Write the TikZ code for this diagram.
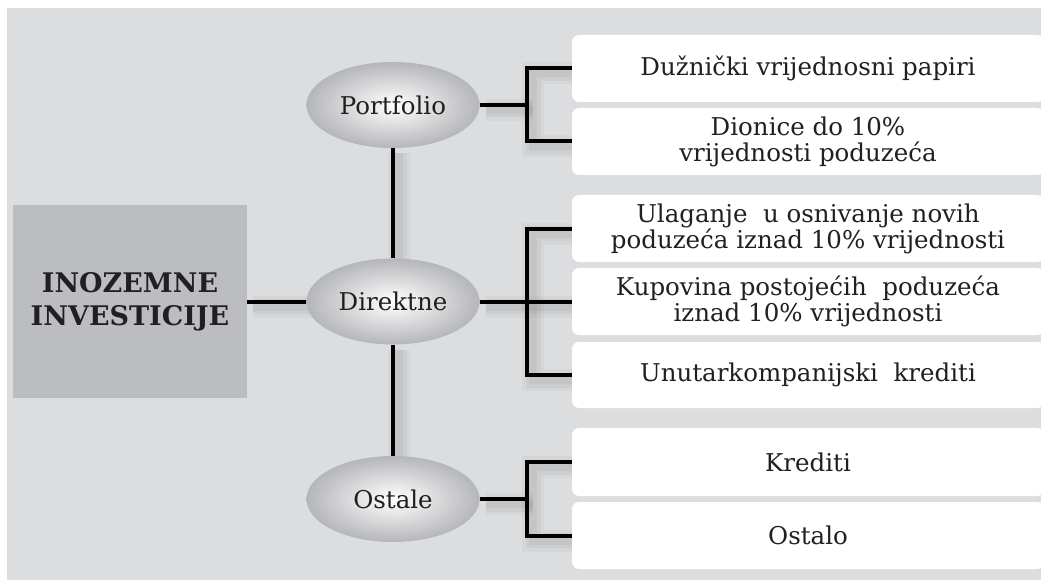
\documentclass[tikz,border=0pt]{standalone}
\usepackage{fontspec}
\setmainfont{DejaVu Serif}
\usetikzlibrary{shapes.geometric,backgrounds}
\definecolor{bgc}{HTML}{DCDDDF}
\definecolor{mainc}{HTML}{BCBDC0}
\definecolor{rimc}{HTML}{B5B6B9}
\definecolor{txtc}{HTML}{231F20}
\begin{document}
\begin{tikzpicture}[x=1pt,y=-1pt,
  font=\fontsize{24.5}{26}\selectfont, text=txtc,
  mainbox/.style={fill=mainc, minimum width=234, minimum height=192, inner sep=0pt, align=center,
    font=\fontsize{27}{33}\selectfont\bfseries},
  oval/.style={ellipse, inner color=white, outer color=rimc, minimum width=173, minimum height=86, inner sep=0pt},
  itembox/.style={fill=white, rounded corners=7, minimum width=472, inner sep=0pt, align=center},
  conn/.style={line width=4, draw=black, line join=miter,
    preaction={draw=black, opacity=.03, line width=22, transform canvas={shift={(6,5)}}},
    preaction={draw=black, opacity=.035, line width=15, transform canvas={shift={(6,5)}}},
    preaction={draw=black, opacity=.04, line width=8, transform canvas={shift={(6,5)}}}}
]
\useasboundingbox (0,0) rectangle (1041,580);
\clip (0,0) rectangle (1041,580);

\node[mainbox] (main) at (130,301.5) {INOZEMNE\\INVESTICIJE};
\node[oval] (p) at (393,105) {Portfolio};
\node[oval] (d) at (393,301.5) {Direktne};
\node[oval] (o) at (393,499) {Ostale};

\node[itembox, minimum height=67] (b1) at (808,68.5) {Dužnički vrijednosni papiri};
\node[itembox, minimum height=67] (b2) at (808,141.5) {Dionice do 10\%\\vrijednosti poduzeća};
\node[itembox, minimum height=67] (b3) at (808,228.5) {Ulaganje\ \ u osnivanje novih\\poduzeća iznad 10\% vrijednosti};
\node[itembox, minimum height=67] (b4) at (808,301.5) {Kupovina postojećih\ \ poduzeća\\iznad 10\% vrijednosti};
\node[itembox, minimum height=66] (b5) at (808,375) {Unutarkompanijski\ \ krediti};
\node[itembox, minimum height=68] (b6) at (808,462) {Krediti};
\node[itembox, minimum height=67] (b7) at (808,535.5) {Ostalo};

\coordinate (jp) at (527,105);
\coordinate (jd) at (527,301.5);
\coordinate (jo) at (527,499);

\begin{pgfonlayer}{background}
\fill[bgc] (7,8) rectangle (1060,600);
\draw[conn] (main.east) -- (d.west);
\draw[conn] (p.south) -- (d.north);
\draw[conn] (d.south) -- (o.north);
\draw[conn] (p.east) -- (jp);
\draw[conn] (b1.west) -| (jp) |- (b2.west);
\draw[conn] (d.east) -- (jd);
\draw[conn] (b3.west) -| (jd) |- (b5.west);
\draw[conn] (jd) -- (b4.west);
\draw[conn] (o.east) -- (jo);
\draw[conn] (b6.west) -| (jo) |- (b7.west);
\end{pgfonlayer}
\end{tikzpicture}
\end{document}
